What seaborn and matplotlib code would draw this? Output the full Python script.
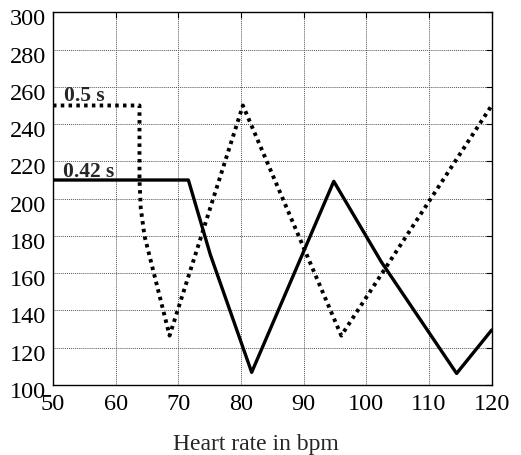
import matplotlib
matplotlib.use("Agg")
import matplotlib.pyplot as plt
import matplotlib.transforms as mtransforms
import seaborn as sns
import pandas as pd

# Data
hr_dotted = [50, 63.8, 63.8, 64.0, 64.6, 68.6, 80.3, 96.0, 120]
val_dotted = [250, 250, 210, 195, 180, 126.5, 250, 126.5, 250]

hr_solid = [50, 71.6, 75.1, 81.7, 94.8, 102.4, 114.4, 120]
val_solid = [210, 210, 170, 106.8, 209.3, 166, 106.2, 129.5]

x_ticks = [50, 60, 70, 80, 90, 100, 110, 120]
y_ticks = [100, 120, 140, 160, 180, 200, 220, 240, 260, 280, 300]
label_dotted = "0.5 s"
label_solid = "0.42 s"
x_label = "Heart rate in bpm"

sns.set_theme(style="white")
plt.rcParams["font.family"] = ["Liberation Serif", "DejaVu Serif"]

fig = plt.figure(figsize=(5.21, 4.56), dpi=100)
ax = fig.add_axes([53/521, 1-386/456, (491.7-53)/521, (386-13.3)/456])

df_d = pd.DataFrame({"hr": hr_dotted, "v": val_dotted})
df_s = pd.DataFrame({"hr": hr_solid, "v": val_solid})

sns.lineplot(data=df_d, x="hr", y="v", ax=ax, sort=False, estimator=None,
             color="black", linewidth=2.8, linestyle=(0, (0.9, 1.1)))
sns.lineplot(data=df_s, x="hr", y="v", ax=ax, sort=False, estimator=None,
             color="black", linewidth=2.4)

ax.set_xlim(50, 120)
ax.set_ylim(100, 300)
ax.set_xticks(x_ticks)
ax.set_yticks(y_ticks)
ax.set_xticklabels([str(t) for t in x_ticks], fontsize=17.5)
ax.set_yticklabels([str(t) for t in y_ticks], fontsize=17.5)
ax.set_xlabel(x_label, fontsize=17)
ax.xaxis.set_label_coords(0.462, -0.128)
ax.set_ylabel("")

ax.grid(True, color="#555555", linestyle=(0, (1, 1)), linewidth=0.7)
ax.tick_params(direction="in", length=4, width=0.8, top=True, right=True,
               labeltop=False, labelright=False, colors="black", pad=5)
ax.tick_params(axis="x", pad=6)
for s in ax.spines.values():
    s.set_color("black")
    s.set_linewidth(1.0)

# shift y tick labels down a bit as in the reference
offset = mtransforms.ScaledTranslation(0, -4/100, fig.dpi_scale_trans)
for lab in ax.get_yticklabels():
    lab.set_transform(lab.get_transform() + offset)

ax.text(51.8, 253, label_dotted, fontsize=15.5, fontweight="bold", ha="left", va="baseline")
ax.text(51.6, 212, label_solid, fontsize=15.5, fontweight="bold", ha="left", va="baseline")

fig.savefig("out.png", dpi=100, facecolor="white")
